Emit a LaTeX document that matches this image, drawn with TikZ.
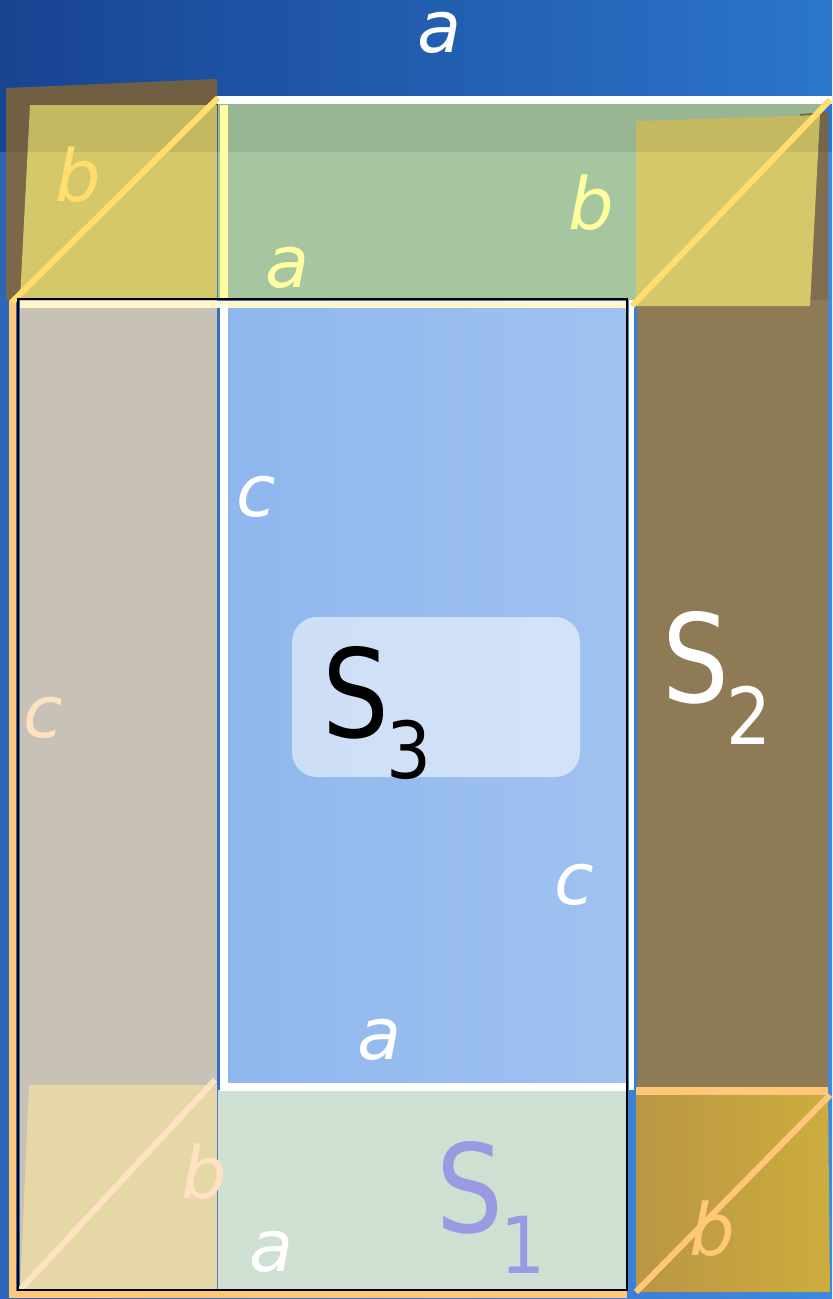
\documentclass[tikz,border=0pt]{standalone}
\usepackage{fontspec}
\setmainfont{DejaVu Sans}
\newcommand{\bigS}[2]{{\fontsize{92}{92}\selectfont\scalebox{0.86}[1]{S}}\kern-2pt{\fontsize{59}{59}\selectfont\raisebox{#1}{\scalebox{0.9}[1]{#2}}}}
\begin{document}
\begin{tikzpicture}[x=0.75pt,y=-0.75pt,
  lbl/.style={inner sep=0pt,font=\fontsize{54}{54}\selectfont\itshape},
  bigs/.style={inner sep=0pt,anchor=base west},
  edge/.style={line width=6pt*0.75}]
\definecolor{bgdark}{HTML}{1B4A9E}
\definecolor{bglight}{HTML}{2F80DE}
\definecolor{topgreen}{HTML}{A6C6A0}
\definecolor{yel}{HTML}{D5C86A}
\definecolor{brownS}{HTML}{8F7A56}
\definecolor{beige}{HTML}{C8C2B6}
\definecolor{blueS}{HTML}{8FB7EE}
\definecolor{botgreen}{HTML}{CDE0D2}
\definecolor{lav}{HTML}{9B99E3}
\definecolor{gold}{HTML}{C49E48}
\definecolor{paleyel}{HTML}{FFFFA0}
\definecolor{yline}{HTML}{FFDE6E}
\definecolor{peach}{HTML}{FFE2C2}
\definecolor{orangeL}{HTML}{FFC878}
\definecolor{cream}{HTML}{FFF6CC}
\definecolor{byel}{HTML}{E6D8A6}
\useasboundingbox (0,0) rectangle (832,1299);
% background
\shade[left color=bgdark,right color=bglight] (0,0) rectangle (832,1299);
\fill[bglight!80!white,opacity=0.35] (0,152) rectangle (832,1299);
% brown piece behind top-left yellow square
\fill[brownS!85!black] (6,88) -- (217,79) -- (217,300) -- (6,300) -- cycle;
% top green rect
\fill[topgreen] (218,104) rectangle (822,300);
% brown strip behind top-right yellow square
\fill[brownS!90!black] (800,114) -- (828,112) -- (828,306) -- (800,306) -- cycle;
% left beige column
\fill[beige] (20,300) rectangle (217,1290);
% centre blue
\shade[left color=blueS,right color=blueS!85!white] (222,305) rectangle (627,1088);
% bottom green
\fill[botgreen] (218,1090) rectangle (627,1290);
% S2 brown
\fill[brownS] (636,300) rectangle (828,1090);
% bottom right gold square
\shade[left color=gold!95!black,right color=gold!85!yellow] (636,1090) -- (828,1090) -- (830,1292) -- (636,1292) -- cycle;
% yellow squares
\fill[yel] (30,105) -- (217,105) -- (217,300) -- (20,300) -- cycle;
\fill[yel] (636,121) -- (820,115) -- (810,306) -- (636,306) -- cycle;
\fill[byel] (29,1085) -- (217,1085) -- (217,1293) -- (20,1293) -- cycle;
% darker top band
\fill[black,opacity=0.08] (0,0) rectangle (832,152);
% lines
\draw[white,line width=8*0.75pt] (217,100) -- (832,100);
\draw[paleyel,line width=8*0.75pt] (224,105) -- (224,300);
\draw[cream,line width=7*0.75pt] (20,304) -- (627,304);
\draw[white,line width=8*0.75pt] (224,305) -- (224,1088);
\draw[white,line width=8*0.75pt] (220,1087) -- (627,1087);
\draw[white,line width=5*0.75pt] (631,300) -- (631,1090);
\draw[bglight,line width=1.5*0.75pt] (636,300) -- (636,1090);
\draw[orangeL,line width=8*0.75pt] (636,1091) -- (828,1091);
\draw[orangeL,line width=7*0.75pt] (12,300) -- (12,1294) -- (627,1294);
\draw[yline,edge] (12,302) -- (218,98);
\draw[yline,edge] (632,306) -- (830,100);
\draw[peach,edge] (20,1290) -- (215,1080);
\draw[orangeL,edge] (636,1292) -- (830,1095);
\draw[black,line width=2.2*0.75pt] (18,299) rectangle (627,1290);
% rounded translucent box
\fill[white,opacity=0.55,rounded corners=25*0.75pt] (292,617) rectangle (580,777);
% labels
\node[lbl,text=white] (atop) at (440,33) {a};
\node[lbl,text=yline] (btl) at (78,175) {b};
\node[lbl,text=paleyel] (atl) at (288,268) {a};
\node[lbl,text=paleyel] (btr) at (591,203) {b};
\node[lbl,text=white] (cin) at (256,497) {c};
\node[lbl,text=peach] (cleft) at (43,718) {c};
\node[lbl,text=white] (cright) at (574,885) {c};
\node[lbl,text=white] (amid) at (380,1040) {a};
\node[lbl,text=peach] (bbl) at (204,1172) {b};
\node[lbl,text=white] (abot) at (272,1252) {a};
\node[lbl,text=orangeL] (bbr) at (712,1229) {b};
\node[bigs,text=black] (s3) at (322,737) {\bigS{-30.75pt}{3}};
\node[bigs,text=white] (s2) at (662,702) {\bigS{-32pt}{2}};
\node[bigs,text=lav] (s1) at (436,1232) {\bigS{-30.75pt}{1}};
\end{tikzpicture}
\end{document}
